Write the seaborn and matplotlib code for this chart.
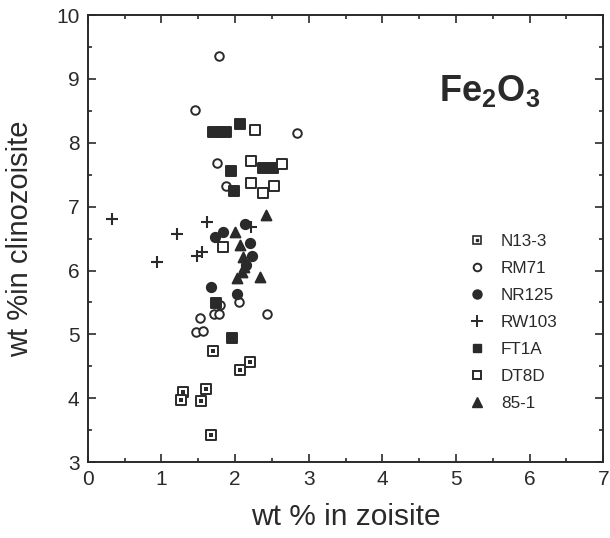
import numpy as np
import pandas as pd
import matplotlib
matplotlib.use("Agg")
import matplotlib.pyplot as plt
from matplotlib.lines import Line2D
from matplotlib.ticker import MultipleLocator
import seaborn as sns

# Valores (wt % zoisita, wt % clinozoisita)
n13_x = [1.70, 2.20, 2.07, 1.29, 1.26, 1.60, 1.54, 1.67]
n13_y = [4.74, 4.57, 4.44, 4.10, 3.97, 4.15, 3.96, 3.43]

rm71_x = [1.78, 1.45, 2.84, 1.75, 1.88, 1.79, 1.71, 1.78, 1.52, 1.47, 1.56, 2.05, 2.43]
rm71_y = [9.36, 8.51, 8.15, 7.68, 7.32, 5.46, 5.32, 5.32, 5.26, 5.04, 5.05, 5.51, 5.32]

nr125_x = [1.73, 1.83, 2.13, 2.20, 2.23, 2.15, 1.67, 2.02]
nr125_y = [6.53, 6.60, 6.73, 6.43, 6.23, 6.09, 5.74, 5.63]

rw103_x = [0.33, 1.62, 1.21, 0.94, 1.48, 1.55, 2.21]
rw103_y = [6.81, 6.76, 6.57, 6.13, 6.23, 6.29, 6.68]

ft1a_x = [1.70, 1.79, 1.87, 2.07, 1.94, 2.38, 2.51, 1.98, 1.74, 1.96]
ft1a_y = [8.17, 8.17, 8.17, 8.29, 7.56, 7.61, 7.61, 7.25, 5.49, 4.95]

dt8d_x = [2.27, 2.21, 2.64, 2.21, 2.38, 2.53, 1.83]
dt8d_y = [8.20, 7.72, 7.67, 7.37, 7.21, 7.32, 6.37]

s851_x = [2.42, 2.00, 2.07, 2.11, 2.12, 2.09, 2.02, 2.34]
s851_y = [6.87, 6.60, 6.40, 6.21, 6.06, 5.98, 5.88, 5.90]

muestras = ["N13-3", "RM71", "NR125", "RW103", "FT1A", "DT8D", "85-1"]

INK = "#2a2a2a"

sns.set_theme(style="ticks")
plt.rcParams["font.family"] = ["Liberation Sans", "DejaVu Sans"]
plt.rcParams["mathtext.default"] = "regular"

datos = pd.concat([
    pd.DataFrame({"x": n13_x, "y": n13_y, "muestra": "N13-3"}),
    pd.DataFrame({"x": rm71_x, "y": rm71_y, "muestra": "RM71"}),
    pd.DataFrame({"x": nr125_x, "y": nr125_y, "muestra": "NR125"}),
    pd.DataFrame({"x": rw103_x, "y": rw103_y, "muestra": "RW103"}),
    pd.DataFrame({"x": ft1a_x, "y": ft1a_y, "muestra": "FT1A"}),
    pd.DataFrame({"x": dt8d_x, "y": dt8d_y, "muestra": "DT8D"}),
    pd.DataFrame({"x": s851_x, "y": s851_y, "muestra": "85-1"}),
], ignore_index=True)

# marcador, relleno, tamano
estilos = {
    "N13-3": ("s", "white", 42),
    "RM71": ("o", "white", 38),
    "NR125": ("o", INK, 45),
    "RW103": ("+", INK, 85),
    "FT1A": ("s", INK, 45),
    "DT8D": ("s", "white", 42),
    "85-1": ("^", INK, 50),
}

fig = plt.figure(figsize=(6.10, 5.38), dpi=100)
ax = fig.add_axes([0.144, 0.141, 0.845, 0.831])

for m in muestras:
    sub = datos[datos["muestra"] == m]
    marker, face, size = estilos[m]
    if m == "RW103":
        sns.scatterplot(data=sub, x="x", y="y", marker=marker, s=size, color=INK,
                        linewidth=1.5, ax=ax, zorder=3)
    else:
        sns.scatterplot(data=sub, x="x", y="y", marker=marker, s=size,
                        facecolor=face, edgecolor=INK, linewidth=1.4, ax=ax, zorder=3)
    if m == "N13-3":
        sns.scatterplot(data=sub, x="x", y="y", marker="s", s=5, color=INK,
                        linewidth=0, ax=ax, zorder=4)

ax.set_xlim(0, 7)
ax.set_ylim(3, 10)
ax.xaxis.set_major_locator(MultipleLocator(1))
ax.xaxis.set_minor_locator(MultipleLocator(0.5))
ax.yaxis.set_major_locator(MultipleLocator(1))
ax.yaxis.set_minor_locator(MultipleLocator(0.5))
ax.tick_params(which="both", direction="in", top=True, right=True, color=INK,
               labelcolor=INK, width=1.2)
ax.tick_params(which="major", length=6, labelsize=15, pad=6)
ax.tick_params(which="minor", length=3)
for sp in ax.spines.values():
    sp.set_color(INK)
    sp.set_linewidth(1.4)

ax.set_xlabel("wt % in zoisite", fontsize=21.5, color=INK, labelpad=10)
ax.set_ylabel("wt %in clinozoisite", fontsize=21, color=INK, labelpad=16)

ax.text(0.78, 0.83, "Fe$_2$O$_3$", transform=ax.transAxes, fontsize=26,
        fontweight="bold", color=INK, ha="center", va="center")

# Leyenda manual
handles = [
    (Line2D([], [], ls="", marker="s", ms=6, mfc="white", mec=INK, mew=1.2),
     Line2D([], [], ls="", marker="s", ms=2, mfc=INK, mec=INK)),
    Line2D([], [], ls="", marker="o", ms=5.5, mfc="white", mec=INK, mew=1.4),
    Line2D([], [], ls="", marker="o", ms=6.5, mfc=INK, mec=INK),
    Line2D([], [], ls="", marker="+", ms=8, mec=INK, mew=1.4),
    Line2D([], [], ls="", marker="s", ms=6, mfc=INK, mec=INK),
    Line2D([], [], ls="", marker="s", ms=6, mfc="white", mec=INK, mew=1.4),
    Line2D([], [], ls="", marker="^", ms=6.5, mfc=INK, mec=INK),
]
ax.legend(handles, muestras, loc="upper left", bbox_to_anchor=(0.705, 0.545),
          frameon=False, fontsize=12.3, labelspacing=0.7, handlelength=1.2,
          handletextpad=0.8, labelcolor=INK)

fig.savefig("out.png", dpi=100)
